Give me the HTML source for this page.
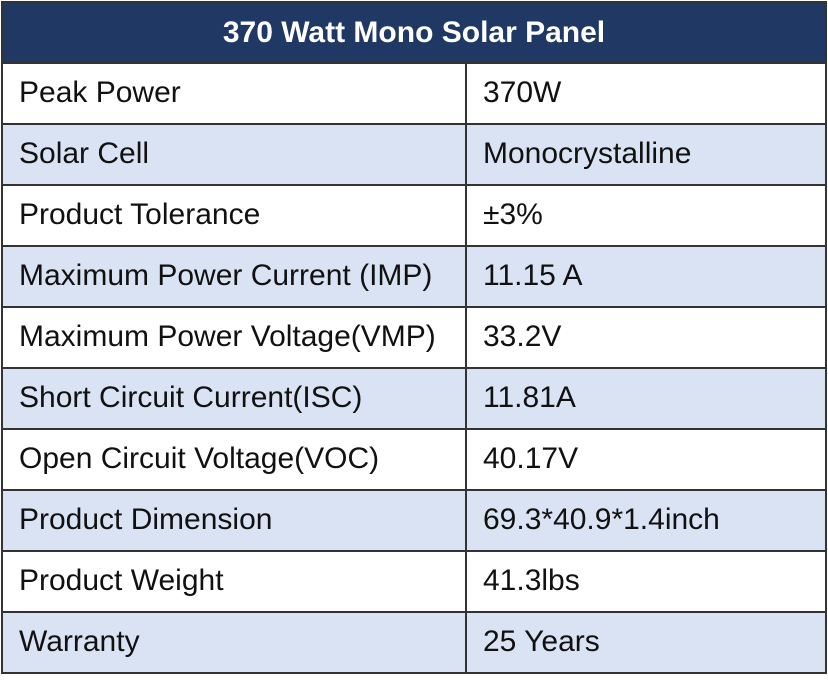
<!DOCTYPE html>
<html><head><meta charset="utf-8"><style>
body{margin:0;width:828px;height:700px;background:#fff;font-family:"Liberation Sans","Noto Sans CJK SC",sans-serif;position:relative;overflow:hidden}
.t{position:absolute;left:1px;top:1px;width:826px;border:2px solid #333;box-sizing:border-box}
.h{height:61px;background:#1f3864;color:#fff;font-weight:bold;font-size:30px;text-align:center;line-height:59px;border-bottom:2px solid #333;box-sizing:border-box}
.r{height:61px;display:flex;border-bottom:2px solid #333;box-sizing:border-box;font-size:30px;color:#111}
.r:last-child{border-bottom:none;height:59px}
.r.a{background:#dae3f3}
.c1{width:464px;border-right:2px solid #333;padding-left:16px;line-height:58px;box-sizing:border-box;white-space:nowrap}
.c2{padding-left:16px;line-height:58px;white-space:nowrap}
</style></head><body>
<div class="t">
<div class="h">370 Watt Mono Solar Panel</div>
<div class="r"><div class="c1">Peak Power</div><div class="c2">370W</div></div>
<div class="r a"><div class="c1">Solar Cell</div><div class="c2">Monocrystalline</div></div>
<div class="r"><div class="c1">Product Tolerance</div><div class="c2">±3%</div></div>
<div class="r a"><div class="c1">Maximum Power Current (IMP)</div><div class="c2">11.15 A</div></div>
<div class="r"><div class="c1">Maximum Power Voltage(VMP)</div><div class="c2">33.2V</div></div>
<div class="r a"><div class="c1">Short Circuit Current(ISC)</div><div class="c2">11.81A</div></div>
<div class="r"><div class="c1">Open Circuit Voltage(VOC)</div><div class="c2">40.17V</div></div>
<div class="r a"><div class="c1">Product Dimension</div><div class="c2">69.3*40.9*1.4inch</div></div>
<div class="r"><div class="c1">Product Weight</div><div class="c2">41.3lbs</div></div>
<div class="r a"><div class="c1">Warranty</div><div class="c2">25 Years</div></div>
</div>
</body></html>
